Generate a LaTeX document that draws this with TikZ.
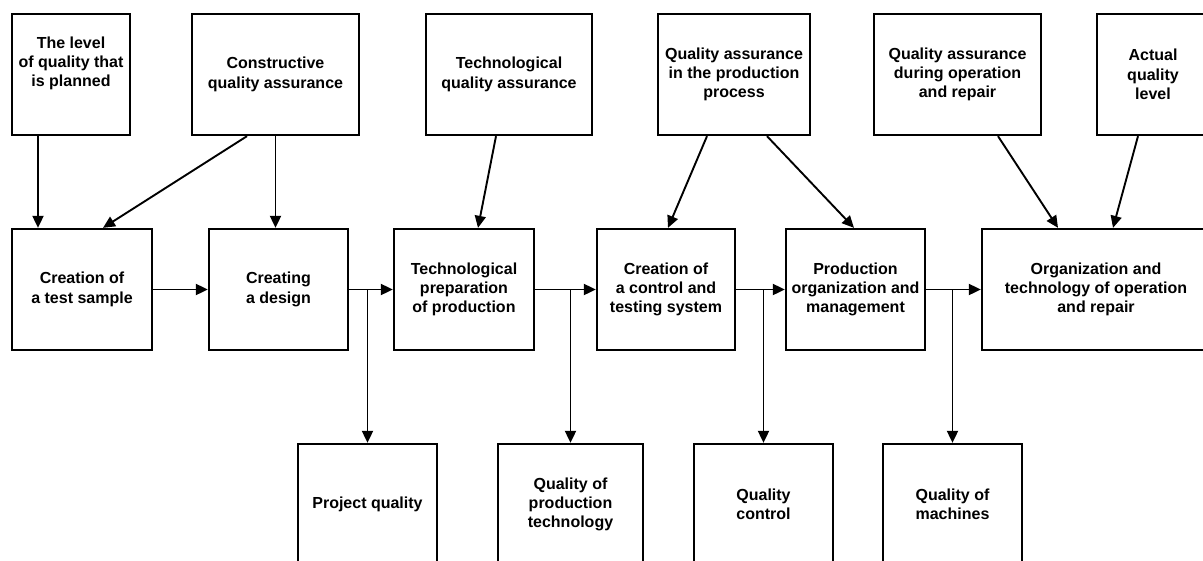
\documentclass[tikz,border=0pt]{standalone}
\usepackage{fontspec}
\setmainfont{Liberation Sans}
\usetikzlibrary{arrows.meta}

\begin{document}
\begin{tikzpicture}[x=1pt,y=-1pt,
    box/.style={draw,line width=2.3pt,align=center,inner sep=1pt,minimum height=121pt,
        font=\bfseries\fontsize{16}{19.3}\selectfont},
    arr/.style={line width=1.9pt,-{Triangle[length=12pt,width=11pt]}}]
        \useasboundingbox (0,0) rectangle (1203,560);
        \clip (0,0) rectangle (1203,560);

        % 上排方框
        \node[box,minimum width=118pt] (T1) at (71,74.5) {The level\\of quality that\\is planned\\[6pt]};
        \node[box,minimum width=167pt] (T2) at (275.5,74.5) {Constructive\\quality assurance};
        \node[box,minimum width=166pt] (T3) at (509,74.5) {Technological\\quality assurance};
        \node[box,minimum width=152pt] (T4) at (734,74.5) {Quality assurance\\in the production\\process};
        \node[box,minimum width=167pt] (T5) at (957.5,74.5) {Quality assurance\\during operation\\and repair};
        \node[box,minimum width=112pt] (T6) at (1153,74.5) {Actual\\quality\\level};

        % 中排方框
        \node[box,minimum width=140pt] (M1) at (82,289.5) {Creation of\\a test sample};
        \node[box,minimum width=139pt] (M2) at (278.5,289.5) {Creating\\a design};
        \node[box,minimum width=140pt] (M3) at (464,289.5) {Technological\\preparation\\of production};
        \node[box,minimum width=138pt] (M4) at (666,289.5) {Creation of\\a control and\\testing system};
        \node[box,minimum width=139pt] (M5) at (855.5,289.5) {Production\\organization and\\management};
        \node[box,minimum width=228pt] (M6) at (1096,289.5) {Organization and\\technology of operation\\and repair};

        % 下排方框
        \node[box,minimum width=139pt] (B1) at (367.5,504.5) {Project quality};
        \node[box,minimum width=145pt] (B2) at (570.5,504.5) {Quality of\\production\\technology};
        \node[box,minimum width=139pt] (B3) at (763.5,504.5) {Quality\\control};
        \node[box,minimum width=139pt] (B4) at (952.5,504.5) {Quality of\\machines};

        % 上排到中排
        \draw[arr] ([xshift=-33pt]T1.south) -- ([xshift=-44pt]M1.north);
        \draw[arr] ([xshift=-28.5pt]T2.south) -- ([xshift=21pt]M1.north);
        \draw[arr] (T2.south) -- (T2.south |- M2.north);
        \draw[arr] ([xshift=-13pt]T3.south) -- ([xshift=14pt]M3.north);
        \draw[arr] ([xshift=-27pt]T4.south) -- ([xshift=2pt]M4.north);
        \draw[arr] ([xshift=33pt]T4.south) -- ([xshift=-1.5pt]M5.north);
        \draw[arr] ([xshift=40.5pt]T5.south) -- ([xshift=-38pt]M6.north);
        \draw[arr] ([xshift=-15pt]T6.south) -- ([xshift=17pt]M6.north);

        % 中排之间
        \draw[arr] (M1.east) -- (M2.west);
        \draw[arr] (M2.east) -- (M3.west);
        \draw[arr] (M3.east) -- (M4.west);
        \draw[arr] (M4.east) -- (M5.west);
        \draw[arr] (M5.east) -- (M6.west);

        % 向下到下排
        \draw[arr] (B1.north |- M2.east) -- (B1.north);
        \draw[arr] (B2.north |- M3.east) -- (B2.north);
        \draw[arr] (B3.north |- M4.east) -- (B3.north);
        \draw[arr] (B4.north |- M5.east) -- (B4.north);
\end{tikzpicture}
\end{document}
